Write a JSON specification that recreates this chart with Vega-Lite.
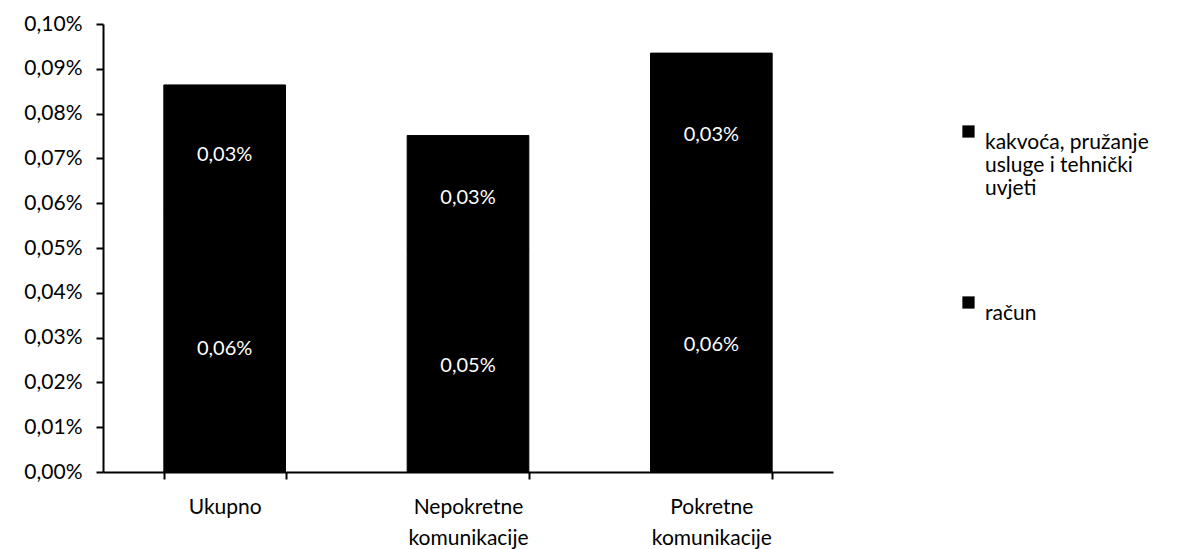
{
  "$schema": "https://vega.github.io/schema/vega-lite/v6.json",
  "width": 730,
  "height": 448,
  "autosize": "none",
  "padding": {"left": 103, "top": 24, "right": 347, "bottom": 77},
  "background": "white",
  "config": {
    "locale": {"number": {"decimal": ",", "thousands": ".", "grouping": [3], "currency": ["", " €"]}},
    "view": {"stroke": null},
    "font": "Lato"
  },
  "data": {
    "values": [
      {"kategorija": "Ukupno", "vrsta": "račun", "udio": 0.000578},
      {"kategorija": "Ukupno", "vrsta": "kakvoća, pružanje usluge i tehnički uvjeti", "udio": 0.000286},
      {"kategorija": "Nepokretne komunikacije", "vrsta": "račun", "udio": 0.000498},
      {"kategorija": "Nepokretne komunikacije", "vrsta": "kakvoća, pružanje usluge i tehnički uvjeti", "udio": 0.000253},
      {"kategorija": "Pokretne komunikacije", "vrsta": "račun", "udio": 0.000595},
      {"kategorija": "Pokretne komunikacije", "vrsta": "kakvoća, pružanje usluge i tehnički uvjeti", "udio": 0.00034}
    ]
  },
  "encoding": {
    "x": {
      "field": "kategorija",
      "type": "nominal",
      "sort": ["Ukupno", "Nepokretne komunikacije", "Pokretne komunikacije"],
      "scale": {"paddingInner": 0.5, "paddingOuter": 0.25},
      "axis": {
        "title": null,
        "labelAngle": 0,
        "labelExpr": "datum.label == 'Nepokretne komunikacije' ? ['Nepokretne', 'komunikacije'] : datum.label == 'Pokretne komunikacije' ? ['Pokretne', 'komunikacije'] : datum.label",
        "labelFontSize": 21,
        "labelColor": "black",
        "labelLineHeight": 31,
        "labelPadding": 17,
        "tickBand": "extent",
        "tickSize": 7,
        "tickColor": "black",
        "domainColor": "black",
        "domainWidth": 2,
        "tickWidth": 2
      }
    },
    "y": {
      "field": "udio",
      "type": "quantitative",
      "stack": "zero",
      "scale": {"domain": [0, 0.001], "nice": false},
      "axis": {
        "title": null,
        "format": ".2%",
        "values": [0, 0.0001, 0.0002, 0.0003, 0.0004, 0.0005, 0.0006, 0.0007, 0.0008, 0.0009, 0.001],
        "labelOverlap": false,
        "grid": false,
        "labelFontSize": 21,
        "labelColor": "black",
        "labelPadding": 14,
        "tickSize": 7,
        "tickColor": "black",
        "tickWidth": 2,
        "domainColor": "black",
        "domainWidth": 2
      }
    },
    "order": {"field": "vrsta", "sort": "descending"}
  },
  "layer": [
    {
      "mark": {"type": "bar", "stroke": "black", "strokeWidth": 1},
      "encoding": {
        "color": {
          "field": "vrsta",
          "type": "nominal",
          "scale": {
            "domain": ["kakvoća, pružanje usluge i tehnički uvjeti", "račun"],
            "range": ["#000000", "#000000"]
          },
          "legend": {
            "title": null,
            "orient": "none",
            "legendX": 855,
            "legendY": 97,
            "symbolType": "square",
            "symbolSize": 150,
            "symbolStrokeWidth": 0,
            "labelFontSize": 21,
            "labelColor": "black",
            "labelBaseline": "top",
            "labelOffset": 6,
            "labelLimit": 400,
            "rowPadding": 93,
            "labelExpr": "datum.label == 'kakvoća, pružanje usluge i tehnički uvjeti' ? ['kakvoća, pružanje', 'usluge i tehnički', 'uvjeti'] : datum.label"
          }
        }
      }
    },
    {
      "mark": {"type": "text", "color": "white", "fontSize": 20, "baseline": "middle", "dy": 6},
      "encoding": {
        "y": {"field": "udio", "type": "quantitative", "stack": "zero", "bandPosition": 0.5},
        "text": {"field": "udio", "type": "quantitative", "format": ".2%"}
      }
    }
  ]
}
